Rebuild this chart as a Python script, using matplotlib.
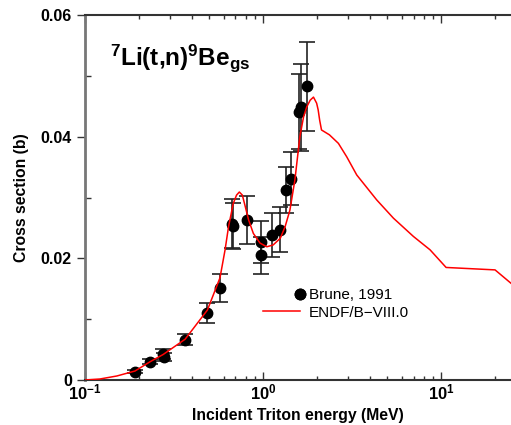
import math
import matplotlib
matplotlib.use("Agg")
import matplotlib.pyplot as plt
from matplotlib.lines import Line2D
from matplotlib.legend_handler import HandlerLine2D
from matplotlib.ticker import LogLocator, FixedLocator, NullFormatter, FuncFormatter

plt.rcParams['font.family'] = ['Liberation Sans', 'DejaVu Sans']
plt.rcParams['mathtext.fontset'] = 'custom'
plt.rcParams['mathtext.rm'] = 'Liberation Sans'
plt.rcParams['mathtext.bf'] = 'Liberation Sans:bold'
plt.rcParams['mathtext.it'] = 'Liberation Sans:italic'

# Experimental data: Brune, 1991
exp_e = [0.191, 0.232, 0.275, 0.277, 0.365, 0.487, 0.573, 0.668, 0.675, 0.81,
         0.97, 0.97, 1.12, 1.24, 1.34, 1.43, 1.60, 1.635, 1.76]
exp_xs = [0.00137, 0.0030, 0.0043, 0.0038, 0.0066, 0.0110, 0.0152, 0.0257, 0.0253, 0.0263,
          0.0227, 0.0205, 0.0238, 0.0247, 0.0312, 0.0331, 0.0441, 0.0448, 0.0483]
exp_err = [0.0003, 0.0004, 0.0008, 0.0006, 0.0009, 0.0017, 0.0023, 0.0040, 0.0038, 0.0039,
           0.0034, 0.0030, 0.0036, 0.0037, 0.0038, 0.0044, 0.0062, 0.0071, 0.0073]

# Evaluated data: ENDF/B-VIII.0
endf_e = [0.1, 0.121, 0.151, 0.191, 0.232, 0.275, 0.365, 0.487, 0.573, 0.612, 0.64,
          0.68, 0.71, 0.736, 0.765, 0.79, 0.83, 0.882, 0.962, 1.05, 1.14, 1.25, 1.33,
          1.415, 1.51, 1.61, 1.69, 1.76, 1.84, 1.92, 2.0, 2.04, 2.08, 2.13, 2.36,
          2.65, 2.95, 3.36, 4.35, 5.4, 6.99, 8.67, 10.67, 20.1, 24.7]
endf_xs = [0.0, 0.00016, 0.00066, 0.00148, 0.0030, 0.0042, 0.0067, 0.0115, 0.0168,
           0.0214, 0.0252, 0.0290, 0.0304, 0.0309, 0.0304, 0.0288, 0.0263, 0.0241,
           0.0225, 0.0219, 0.0222, 0.0233, 0.0252, 0.0279, 0.0329, 0.0400, 0.0433,
           0.0449, 0.0460, 0.0465, 0.0455, 0.0444, 0.0427, 0.0411, 0.0403, 0.0389,
           0.0367, 0.0337, 0.0296, 0.0266, 0.0236, 0.0214, 0.0185, 0.0181, 0.0159]

fig = plt.figure(figsize=(5.11, 4.25), dpi=100)
ax = fig.add_axes([85/511, 45/425, 1 - 85/511, 365/425])

ax.plot(endf_e, endf_xs, color='#ff0000', lw=1.1, zorder=3)
ax.errorbar(exp_e, exp_xs, yerr=exp_err, fmt='o', color='black', ecolor='#222222',
            elinewidth=1.2, capsize=6, capthick=1.2, markersize=7.5, zorder=2)

ax.set_xscale('log')
ax.set_xlim(0.1, 24.7)
ax.set_ylim(0, 0.06)

ax.set_yticks([0, 0.02, 0.04, 0.06])
ax.set_yticklabels(['0', '0.02', '0.04', '0.06'])
ax.yaxis.set_minor_locator(FixedLocator([0.01, 0.03, 0.05]))

ax.xaxis.set_major_locator(LogLocator(base=10, numticks=10))
ax.xaxis.set_minor_locator(LogLocator(base=10, subs=range(2, 10), numticks=20))
ax.xaxis.set_minor_formatter(NullFormatter())
ax.xaxis.set_major_formatter(FuncFormatter(lambda v, p: r'$\mathbf{10^{%d}}$' % round(math.log10(v))))

ax.tick_params(axis='y', which='major', direction='out', length=6, width=1, labelsize=11.5,
               colors='#333333', labelcolor='black')
ax.tick_params(axis='y', which='minor', direction='in', length=4, width=1, colors='#333333')
ax.tick_params(axis='x', which='major', direction='in', length=6, width=1, labelsize=12,
               top=True, colors='#333333', labelcolor='black', pad=2)
ax.tick_params(axis='x', which='minor', direction='in', length=3, width=1, top=True,
               colors='#333333')
for lab in ax.get_yticklabels():
    lab.set_fontweight('bold')

ax.spines['right'].set_visible(False)
ax.spines['left'].set_color('#777777')
ax.spines['left'].set_linewidth(2)
ax.spines['bottom'].set_color('#333333')
ax.spines['bottom'].set_linewidth(1.5)
ax.spines['top'].set_color('#333333')
ax.spines['top'].set_linewidth(1.5)

ax.set_xlabel('Incident Triton energy (MeV)', fontsize=11.3, fontweight='bold', labelpad=4)
ax.set_ylabel('Cross section (b)', fontsize=11.3, fontweight='bold', labelpad=8)

ax.text(0.138, 0.0518, r'$^{\mathbf{7}}$Li(t,n)$^{\mathbf{9}}$Be$_{\mathbf{gs}}$',
        fontsize=17.5, fontweight='bold', ha='left', va='baseline')


class RightMarkerHandler(HandlerLine2D):
    def get_xdata(self, legend, xdescent, ydescent, width, height, fontsize):
        xe = -xdescent + width
        return [xe, xe], [xe, xe]


h_exp = Line2D([], [], ls='none', marker='o', color='black', markersize=7.5)
h_endf = Line2D([], [], color='#ff0000', lw=1.1)
leg = ax.legend([h_exp, h_endf], ['Brune, 1991', 'ENDF/B\u2212VIII.0'], loc='upper left',
                bbox_to_anchor=((263 - 85) / 426, (380 - 288) / 365),
                frameon=False, fontsize=11, handlelength=2.4, handletextpad=0.6,
                borderaxespad=0, borderpad=0, labelspacing=0.25, numpoints=1,
                handler_map={h_exp: RightMarkerHandler(numpoints=2)})

fig.savefig('out.png', dpi=100)
